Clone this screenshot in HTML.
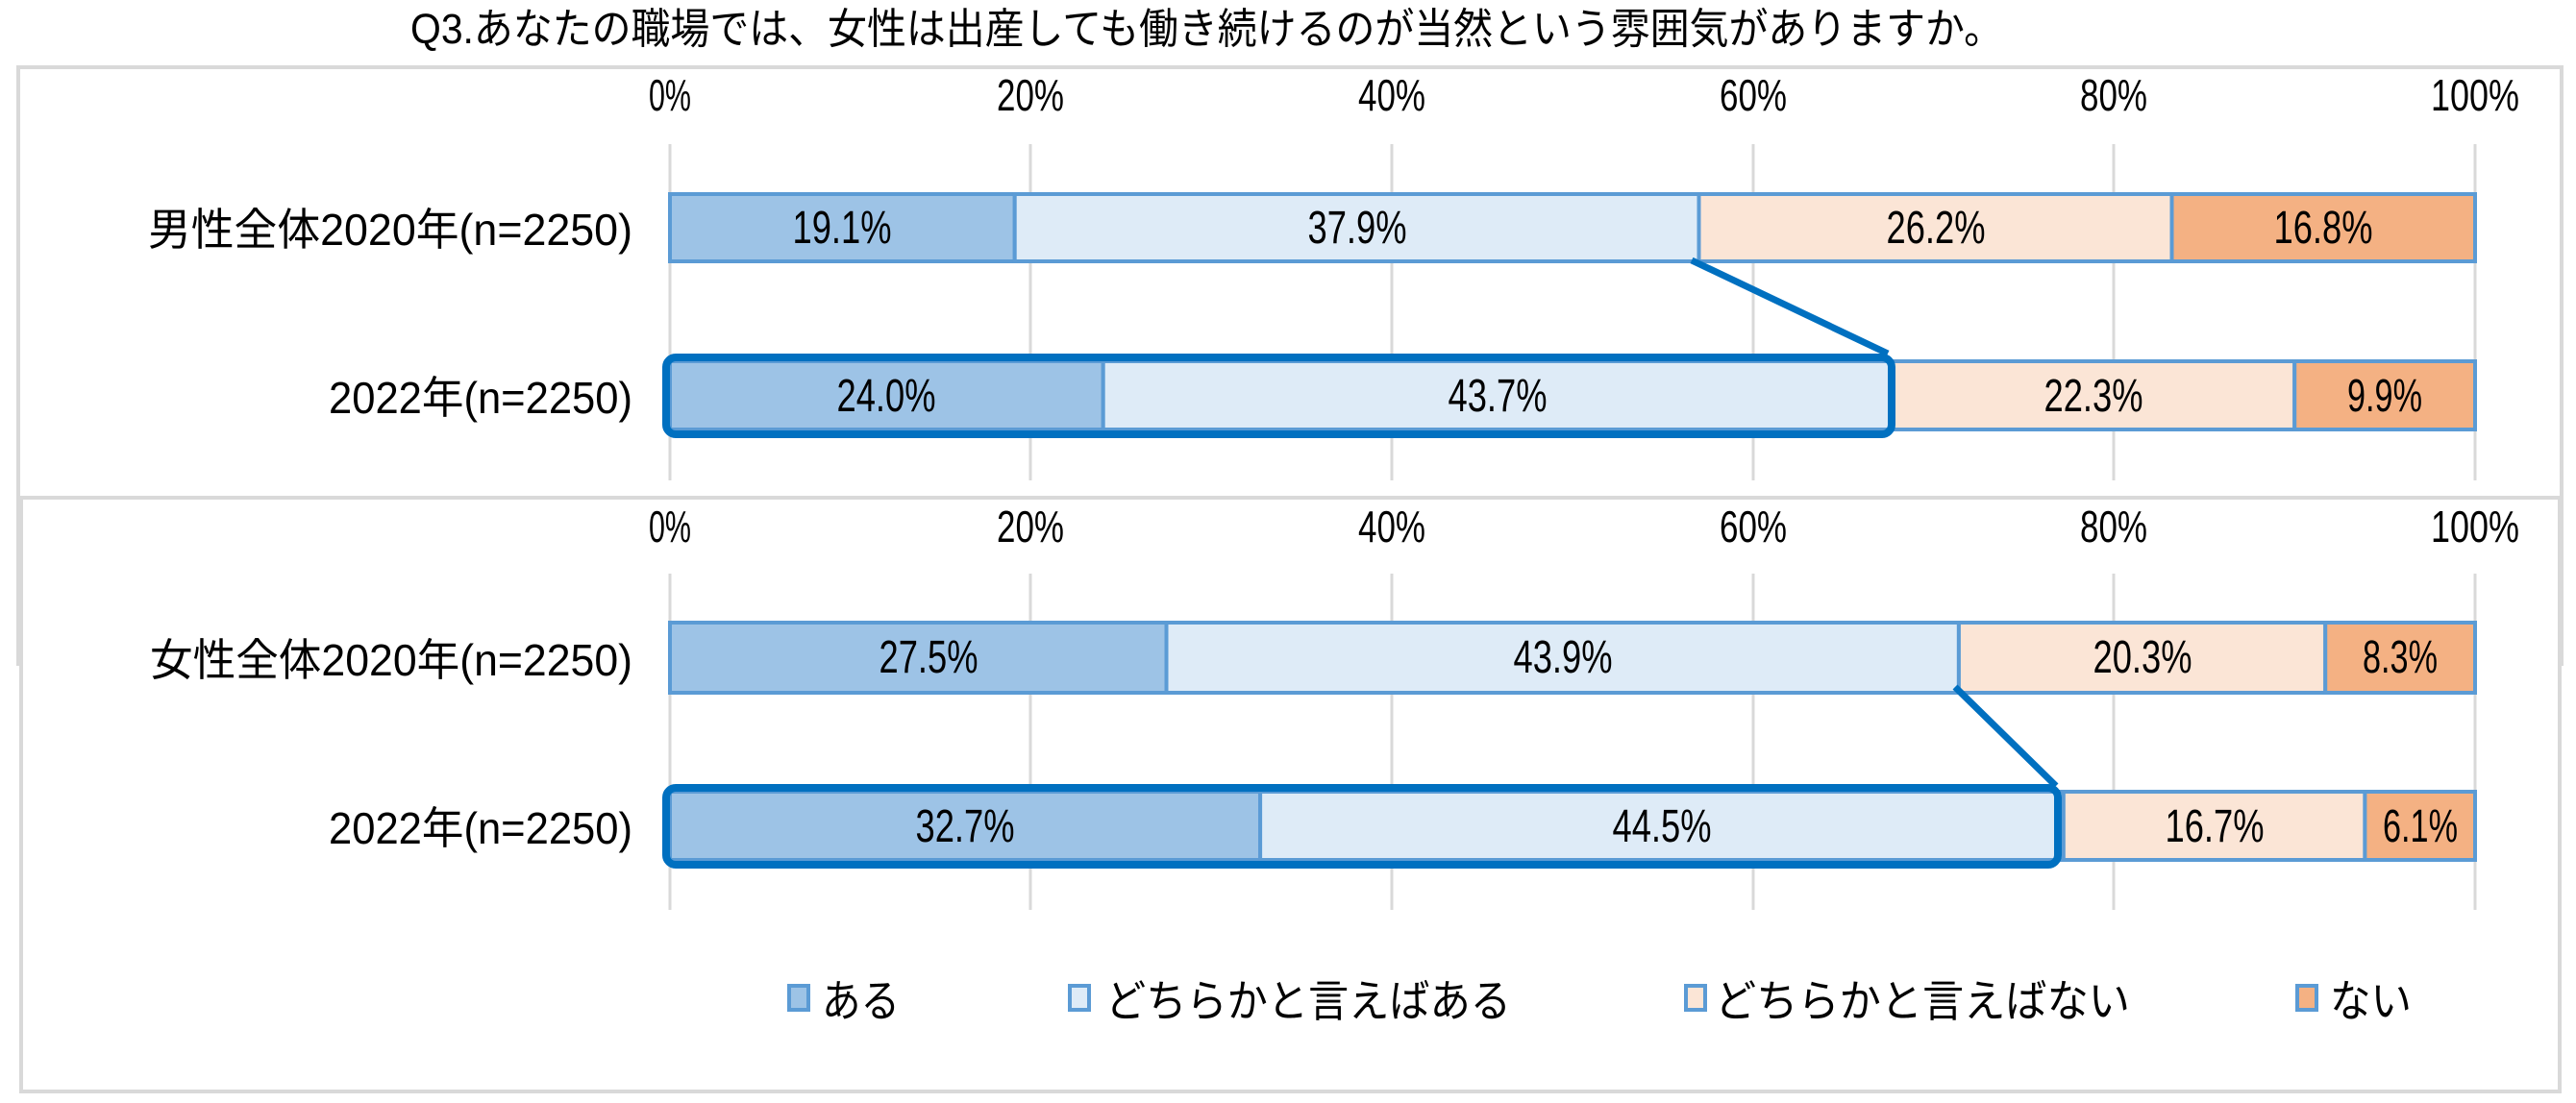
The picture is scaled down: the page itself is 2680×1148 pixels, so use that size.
<!DOCTYPE html>
<html><head><meta charset="utf-8"><style>
html,body{margin:0;padding:0;background:#fff;}
svg{display:block;}
text{font-family:"Liberation Sans","Noto Sans CJK JP",sans-serif;fill:#000;}
</style></head><body>
<svg width="2680" height="1148" viewBox="0 0 2680 1148" xmlns="http://www.w3.org/2000/svg">
<text x="427" y="45" font-size="44" textLength="1657" lengthAdjust="spacingAndGlyphs">Q3.あなたの職場では、女性は出産しても働き続けるのが当然という雰囲気がありますか。</text>
<!-- top box -->
<rect x="19" y="70" width="2646" height="621" fill="#fff" stroke="#D9D9D9" stroke-width="4"/>
<g font-size="46" text-anchor="middle">
<text x="697" y="115" textLength="44" lengthAdjust="spacingAndGlyphs">0%</text>
<text x="1072" y="115" textLength="70" lengthAdjust="spacingAndGlyphs">20%</text>
<text x="1448" y="115" textLength="70" lengthAdjust="spacingAndGlyphs">40%</text>
<text x="1824" y="115" textLength="70" lengthAdjust="spacingAndGlyphs">60%</text>
<text x="2199" y="115" textLength="70" lengthAdjust="spacingAndGlyphs">80%</text>
<text x="2575" y="115" textLength="92" lengthAdjust="spacingAndGlyphs">100%</text>
</g>
<g stroke="#D9D9D9" stroke-width="3">
<line x1="697" y1="150" x2="697" y2="500"/><line x1="1072" y1="150" x2="1072" y2="500"/><line x1="1448" y1="150" x2="1448" y2="500"/><line x1="1824" y1="150" x2="1824" y2="500"/><line x1="2199" y1="150" x2="2199" y2="500"/><line x1="2575" y1="150" x2="2575" y2="500"/>
</g>
<g stroke="#5B9BD5" stroke-width="4">
<rect x="697" y="202" width="358.7" height="70" fill="#9DC3E6"/>
<rect x="1055.7" y="202" width="711.8" height="70" fill="#DEEBF7"/>
<rect x="1767.5" y="202" width="492" height="70" fill="#FBE5D6"/>
<rect x="2259.5" y="202" width="315.5" height="70" fill="#F4B183"/>
<rect x="697" y="376" width="450.7" height="71" fill="#9DC3E6"/>
<rect x="1147.7" y="376" width="820.7" height="71" fill="#DEEBF7"/>
<rect x="1968.4" y="376" width="418.8" height="71" fill="#FBE5D6"/>
<rect x="2387.2" y="376" width="187.8" height="71" fill="#F4B183"/>
</g>
<rect x="693" y="372" width="1275" height="80" rx="10" fill="none" stroke="#0070C0" stroke-width="8"/>
<line x1="1760" y1="271" x2="1964" y2="368" stroke="#0070C0" stroke-width="7"/>
<g font-size="48" text-anchor="middle">
<text x="876" y="253" textLength="103" lengthAdjust="spacingAndGlyphs">19.1%</text>
<text x="1412" y="253" textLength="103" lengthAdjust="spacingAndGlyphs">37.9%</text>
<text x="2014" y="253" textLength="103" lengthAdjust="spacingAndGlyphs">26.2%</text>
<text x="2417" y="253" textLength="103" lengthAdjust="spacingAndGlyphs">16.8%</text>
<text x="922" y="428" textLength="103" lengthAdjust="spacingAndGlyphs">24.0%</text>
<text x="1558" y="428" textLength="103" lengthAdjust="spacingAndGlyphs">43.7%</text>
<text x="2178" y="428" textLength="103" lengthAdjust="spacingAndGlyphs">22.3%</text>
<text x="2481" y="428" textLength="78" lengthAdjust="spacingAndGlyphs">9.9%</text>
</g>
<g font-size="46" text-anchor="end">
<text x="658" y="255" textLength="504" lengthAdjust="spacingAndGlyphs">男性全体2020年(n=2250)</text>
<text x="658" y="430" textLength="316" lengthAdjust="spacingAndGlyphs">2022年(n=2250)</text>
</g>
<!-- bottom box -->
<rect x="22" y="518" width="2641" height="618" fill="#fff" stroke="#D9D9D9" stroke-width="4"/>
<g font-size="46" text-anchor="middle">
<text x="697" y="564" textLength="44" lengthAdjust="spacingAndGlyphs">0%</text>
<text x="1072" y="564" textLength="70" lengthAdjust="spacingAndGlyphs">20%</text>
<text x="1448" y="564" textLength="70" lengthAdjust="spacingAndGlyphs">40%</text>
<text x="1824" y="564" textLength="70" lengthAdjust="spacingAndGlyphs">60%</text>
<text x="2199" y="564" textLength="70" lengthAdjust="spacingAndGlyphs">80%</text>
<text x="2575" y="564" textLength="92" lengthAdjust="spacingAndGlyphs">100%</text>
</g>
<g stroke="#D9D9D9" stroke-width="3">
<line x1="697" y1="597" x2="697" y2="947"/><line x1="1072" y1="597" x2="1072" y2="947"/><line x1="1448" y1="597" x2="1448" y2="947"/><line x1="1824" y1="597" x2="1824" y2="947"/><line x1="2199" y1="597" x2="2199" y2="947"/><line x1="2575" y1="597" x2="2575" y2="947"/>
</g>
<g stroke="#5B9BD5" stroke-width="4">
<rect x="697" y="648" width="516.5" height="73" fill="#9DC3E6"/>
<rect x="1213.5" y="648" width="824.4" height="73" fill="#DEEBF7"/>
<rect x="2037.9" y="648" width="381.3" height="73" fill="#FBE5D6"/>
<rect x="2419.2" y="648" width="155.8" height="73" fill="#F4B183"/>
<rect x="697" y="824" width="614.1" height="71" fill="#9DC3E6"/>
<rect x="1311.1" y="824" width="835.7" height="71" fill="#DEEBF7"/>
<rect x="2146.8" y="824" width="313.6" height="71" fill="#FBE5D6"/>
<rect x="2460.4" y="824" width="114.6" height="71" fill="#F4B183"/>
</g>
<rect x="693" y="820" width="1448" height="80" rx="10" fill="none" stroke="#0070C0" stroke-width="8"/>
<line x1="2034" y1="715" x2="2139" y2="818" stroke="#0070C0" stroke-width="7"/>
<g font-size="48" text-anchor="middle">
<text x="966" y="700" textLength="103" lengthAdjust="spacingAndGlyphs">27.5%</text>
<text x="1626" y="700" textLength="103" lengthAdjust="spacingAndGlyphs">43.9%</text>
<text x="2229" y="700" textLength="103" lengthAdjust="spacingAndGlyphs">20.3%</text>
<text x="2497" y="700" textLength="78" lengthAdjust="spacingAndGlyphs">8.3%</text>
<text x="1004" y="876" textLength="103" lengthAdjust="spacingAndGlyphs">32.7%</text>
<text x="1729" y="876" textLength="103" lengthAdjust="spacingAndGlyphs">44.5%</text>
<text x="2304" y="876" textLength="103" lengthAdjust="spacingAndGlyphs">16.7%</text>
<text x="2518" y="876" textLength="78" lengthAdjust="spacingAndGlyphs">6.1%</text>
</g>
<g font-size="46" text-anchor="end">
<text x="658" y="703" textLength="502" lengthAdjust="spacingAndGlyphs">女性全体2020年(n=2250)</text>
<text x="658" y="878" textLength="316" lengthAdjust="spacingAndGlyphs">2022年(n=2250)</text>
</g>
<!-- legend -->
<g stroke="#5B9BD5" stroke-width="4">
<rect x="821" y="1026" width="20" height="25" fill="#9DC3E6"/>
<rect x="1113" y="1026" width="20" height="25" fill="#DEEBF7"/>
<rect x="1754" y="1026" width="20" height="25" fill="#FBE5D6"/>
<rect x="2390" y="1026" width="20" height="25" fill="#F4B183"/>
</g>
<g font-size="46">
<text x="855" y="1058" textLength="81" lengthAdjust="spacingAndGlyphs">ある</text>
<text x="1150" y="1058" textLength="422" lengthAdjust="spacingAndGlyphs">どちらかと言えばある</text>
<text x="1784" y="1058" textLength="432" lengthAdjust="spacingAndGlyphs">どちらかと言えばない</text>
<text x="2424" y="1058" textLength="85" lengthAdjust="spacingAndGlyphs">ない</text>
</g>
</svg>
</body></html>
